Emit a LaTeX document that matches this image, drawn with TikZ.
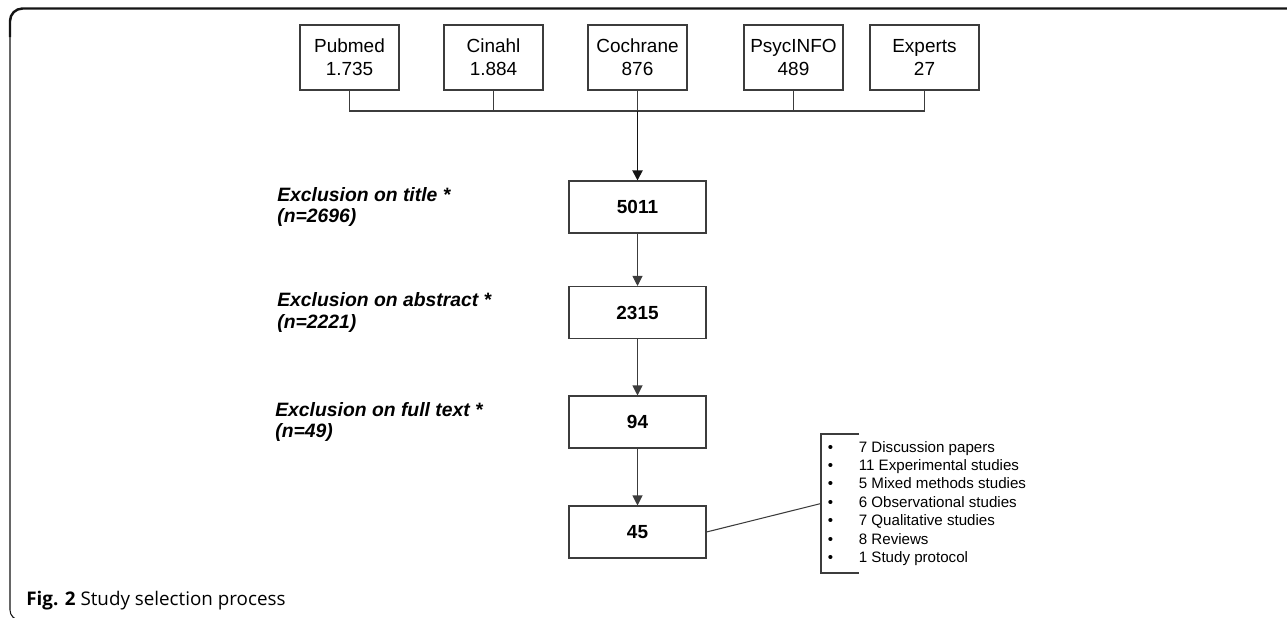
\documentclass[tikz,border=0pt]{standalone}
\usepackage{fontspec}
\setmainfont{Liberation Sans}
\newfontfamily\captionfont{Open Sans}
\usepackage{xcolor}
\usetikzlibrary{arrows.meta}
\definecolor{frameColor}{RGB}{20,20,20}
\definecolor{boxColor}{RGB}{60,60,60}

\begin{document}
\begin{tikzpicture}[
        srcBox/.style={draw=boxColor, line width=0.6pt, minimum width=1.98cm, minimum height=1.3cm, align=center, inner sep=0pt, font=\fontsize{10.8}{13}\selectfont},
        stageBox/.style={draw=boxColor, line width=0.6pt, minimum width=2.74cm, minimum height=1.04cm, inner sep=0pt, font=\fontsize{10.8}{13}\selectfont\bfseries},
        exclLabel/.style={anchor=west, align=left, inner sep=0pt, font=\fontsize{11}{12.5}\selectfont\bfseries\itshape},
        flow/.style={-{Triangle[length=0.2cm, width=0.2cm]}, line width=0.6pt, boxColor}
    ]
                \useasboundingbox (0,0) rectangle (25.74,12.34);
                \draw[frameColor, line width=1.4pt, rounded corners=0.25cm] (0.2,11.6) -- (0.2,12.17) -- (25.74,12.17);
                \draw[frameColor, line width=0.6pt, rounded corners=0.2cm] (0.2,11.6) -- (0.2,-0.06) -- (1,-0.06);
                \node[srcBox] (pubmed) at (6.99,11.19) {Pubmed\\1.735};
                \node[srcBox] (cinahl) at (9.87,11.19) {Cinahl\\1.884};
                \node[srcBox] (cochrane) at (12.75,11.19) {Cochrane\\876};
                \node[srcBox] (psycinfo) at (15.87,11.19) {PsycINFO\\489};
                \node[srcBox, minimum width=2.18cm] (experts) at (18.49,11.19) {Experts\\27};
                \coordinate (bus) at (12.75,10.12);
                \draw[boxColor, line width=0.6pt] (pubmed.south) |- (bus) -| (experts.south);
                \foreach \src in {cinahl,cochrane,psycinfo}
                    \draw[boxColor, line width=0.6pt] (\src.south) -- (\src.south |- bus);
                \node[stageBox] (screened) at (12.75,8.2) {5011};
                \node[stageBox] (abstracts) at (12.75,6.09) {2315};
                \node[stageBox] (fulltexts) at (12.75,3.9) {94};
                \node[stageBox] (included) at (12.75,1.7) {45};
                \draw[flow, frameColor, line width=1.1pt] (bus) -- (screened);
                \draw[flow] (screened) -- (abstracts);
                \draw[flow] (abstracts) -- (fulltexts);
                \draw[flow] (fulltexts) -- (included);
                \node[exclLabel] (exclTitle) at (5.54,8.2) {Exclusion on title *\\(n=2696)};
                \node[exclLabel] (exclAbstract) at (5.54,6.09) {Exclusion on abstract *\\(n=2221)};
                \node[exclLabel] (exclFull) at (5.5,3.9) {Exclusion on full text *\\(n=49)};
                \coordinate (brace) at (16.42,2.27);
                \draw[boxColor, line width=0.6pt] (17.18,3.66) -| (16.42,0.88) -- (17.18,0.88);
                \draw[boxColor, line width=0.6pt] (included.east) -- (brace);
                \node[anchor=west, align=left, inner sep=0pt, font=\fontsize{8.6}{10.5}\selectfont] (studies) at (16.55,2.27) {\makebox[0.62cm][l]{\textbullet}7 Discussion papers\\
                    \makebox[0.62cm][l]{\textbullet}11 Experimental studies\\
                    \makebox[0.62cm][l]{\textbullet}5 Mixed methods studies\\
                    \makebox[0.62cm][l]{\textbullet}6 Observational studies\\
                    \makebox[0.62cm][l]{\textbullet}7 Qualitative studies\\
                    \makebox[0.62cm][l]{\textbullet}8 Reviews\\
                    \makebox[0.62cm][l]{\textbullet}1 Study protocol};
                \node[anchor=base west, inner sep=0pt, font=\captionfont\fontsize{10.7}{12.5}\selectfont] (caption) at (0.52,0.24) {\textbf{Fig. 2} Study selection process};
            \end{tikzpicture}
\end{document}
